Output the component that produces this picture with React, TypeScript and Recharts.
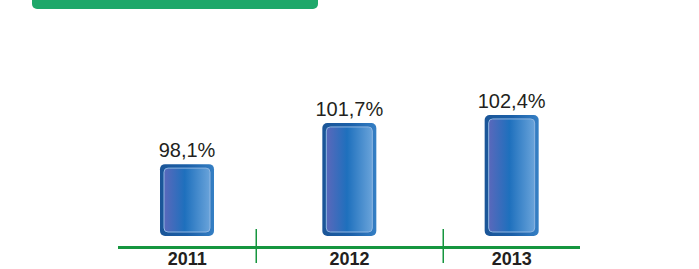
import React from "react";
import { BarChart, Bar, XAxis, YAxis, LabelList } from "recharts";

const years = ["2011", "2012", "2013"];
const values = [98.1, 101.7, 102.4];
const valueLabels = ["98,1%", "101,7%", "102,4%"];

const data = years.map((y, i) => ({ year: y, value: values[i], label: valueLabels[i] }));

const BarShape = (props: any) => {
  const { x, y, width, height } = props;
  if (!height || height <= 0) return null;
  const inset = 4;
  return (
    <g>
      <rect x={x} y={y} width={width} height={height} rx={5} ry={5} fill="url(#outerGrad)" />
      <rect
        x={x + inset}
        y={y + inset}
        width={width - inset * 2}
        height={height - inset * 2}
        rx={4}
        ry={4}
        fill="url(#innerGrad)"
        stroke="#8fb6e2"
        strokeWidth={1}
      />
    </g>
  );
};

const ValueLabel = (props: any) => {
  const { x, y, width, value } = props;
  return (
    <text
      x={x + width / 2}
      y={y - 7}
      textAnchor="middle"
      fontFamily="'Liberation Sans', Arial, sans-serif"
      fontSize={20}
      fill="#231f20"
    >
      {value}
    </text>
  );
};

const YearTick = (props: any) => {
  const { x, y, payload } = props;
  return (
    <text
      x={x}
      y={y}
      dy={21}
      textAnchor="middle"
      fontFamily="'Liberation Sans', Arial, sans-serif"
      fontWeight="bold"
      fontSize={18}
      fill="#231f20"
    >
      {payload.value}
    </text>
  );
};

export default function App() {
  return (
    <div style={{ position: "absolute", left: 0, top: 0, width: 699, height: 269, background: "#fff", overflow: "hidden" }}>
      <div
        style={{
          position: "absolute",
          left: 32,
          top: -8,
          width: 286,
          height: 17,
          background: "#1ea86a",
          borderRadius: 5,
        }}
      />
      <BarChart
        width={699}
        height={269}
        data={data}
        margin={{ top: 60, right: 106, bottom: 0, left: 106 }}
      >
        <defs>
          <linearGradient id="outerGrad" x1="0" y1="0" x2="1" y2="0">
            <stop offset="0%" stopColor="#1b5597" />
            <stop offset="50%" stopColor="#1a5fa8" />
            <stop offset="100%" stopColor="#357fc4" />
          </linearGradient>
          <linearGradient id="innerGrad" x1="0" y1="0" x2="1" y2="0">
            <stop offset="0%" stopColor="#5a68bb" />
            <stop offset="45%" stopColor="#1e70bd" />
            <stop offset="100%" stopColor="#69a3da" />
          </linearGradient>
        </defs>
        <XAxis
          dataKey="year"
          axisLine={false}
          tickLine={false}
          height={33}
          tick={<YearTick />}
          interval={0}
        />
        <YAxis hide domain={[91.82, 107.2]} allowDataOverflow />
        <Bar dataKey="value" barSize={54} shape={<BarShape />} isAnimationActive={false}>
          <LabelList dataKey="label" content={<ValueLabel />} />
        </Bar>
      </BarChart>
      <svg
        width={699}
        height={269}
        style={{ position: "absolute", left: 0, top: 0, pointerEvents: "none" }}
      >
        <rect x={118} y={246} width={462} height={3} fill="#16963f" />
        <rect x={255.5} y={229} width={1.5} height={34} fill="#16963f" />
        <rect x={442.5} y={229} width={1.5} height={34} fill="#16963f" />
      </svg>
    </div>
  );
}
